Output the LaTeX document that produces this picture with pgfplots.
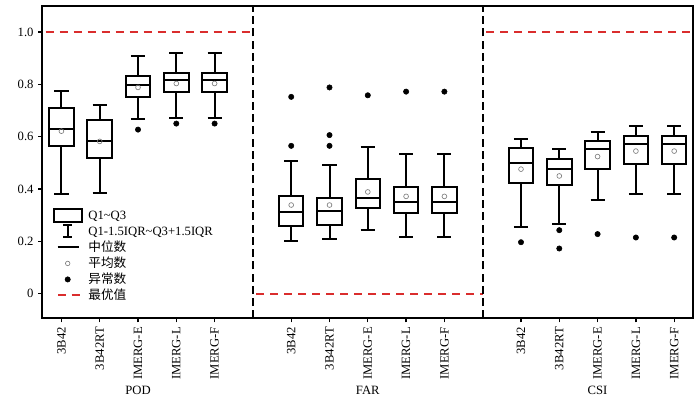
\documentclass[border=0pt]{standalone}
\usepackage{pgfplots}
\pgfplotsset{compat=1.18}
\usepgfplotslibrary{statistics}
\usepackage{fontspec}
\setmainfont{Liberation Serif}
\newfontfamily\cjk{Noto Sans CJK SC}
\definecolor{optred}{RGB}{218,45,45}
\begin{document}
\begin{tikzpicture}[font=\fontsize{9.5}{11}\selectfont]
\begin{axis}[
  name=ax,
  scale only axis,
  width=488.25pt, height=234.5pt,
  xmin=0.5, xmax=17.5, ymin=-0.094, ymax=1.1,
  clip=false,
  axis line style={line width=1.5pt},
  tick align=outside,
  xtick pos=bottom, ytick pos=left,
  major tick length=3pt,
  tick style={line width=1pt, black},
  xtick={1,2,3,4,5,7,8,9,10,11,13,14,15,16,17},
  xticklabels={3B42,3B42RT,IMERG-E,IMERG-L,IMERG-F,3B42,3B42RT,IMERG-E,IMERG-L,IMERG-F,3B42,3B42RT,IMERG-E,IMERG-L,IMERG-F},
  x tick label style={rotate=90, anchor=east},
  ytick={0,0.2,0.4,0.6,0.8,1.0},
  yticklabels={0,0.2,0.4,0.6,0.8,1.0},
  boxplot/draw direction=y,
  boxplot/every box/.style={draw=black, line width=1.5pt},
  boxplot/every whisker/.style={draw=black, line width=1.5pt},
  boxplot/every median/.style={draw=black, line width=1.5pt},
  legend style={at={(0.016,0.355)}, anchor=north west, draw=none, fill=none,
    inner sep=0pt, outer sep=0pt, row sep=0pt,
    nodes={inner sep=1pt, text height=8pt, text depth=2pt}},
  legend cell align=left,
]
% legend
\addlegendimage{legend image code/.code={\path[draw=none,fill=none] (0pt,-5.5pt) rectangle (25pt,5.5pt); \draw[black, line width=1.5pt] (0pt,-5pt) rectangle (21pt,5pt);}}
\addlegendentry{Q1\textasciitilde Q3}
\addlegendimage{legend image code/.code={\path[draw=none,fill=none] (0pt,-5.5pt) rectangle (25pt,5.5pt); \draw[black, line width=1.5pt] (7pt,-4.5pt) -- (14pt,-4.5pt) (10.5pt,-4.5pt) -- (10.5pt,4.5pt) (7pt,4.5pt) -- (14pt,4.5pt);}}
\addlegendentry{Q1-1.5IQR\textasciitilde Q3+1.5IQR}
\addlegendimage{legend image code/.code={\path[draw=none,fill=none] (0pt,-5.5pt) rectangle (25pt,5.5pt); \draw[black, line width=1.5pt] (3pt,0pt) -- (19pt,0pt);}}
\addlegendentry{\cjk 中位数}
\addlegendimage{legend image code/.code={\path[draw=none,fill=none] (0pt,-5.5pt) rectangle (25pt,5.5pt); \draw[gray, line width=0.5pt] (10.5pt,0pt) circle (1.7pt);}}
\addlegendentry{\cjk 平均数}
\addlegendimage{legend image code/.code={\path[draw=none,fill=none] (0pt,-5.5pt) rectangle (25pt,5.5pt); \fill[black] (10.5pt,0pt) circle (2pt);}}
\addlegendentry{\cjk 异常数}
\addlegendimage{legend image code/.code={\path[draw=none,fill=none] (0pt,-5.5pt) rectangle (25pt,5.5pt); \draw[optred, line width=1.5pt, dash pattern=on 6pt off 4pt] (3.5pt,0pt) -- (19.5pt,0pt);}}
\addlegendentry{\cjk 最优值}

% optimal value lines
\addplot[forget plot, optred, line width=1.5pt, dash pattern=on 6pt off 4.5pt, dash phase=-2.5pt] coordinates {(0.5,1) (6,1)};
\addplot[forget plot, optred, line width=1.5pt, dash pattern=on 6pt off 4.5pt, dash phase=-2.5pt] coordinates {(6,0) (12,0)};
\addplot[forget plot, optred, line width=1.5pt, dash pattern=on 6pt off 4.5pt, dash phase=-2.5pt] coordinates {(12,1) (17.5,1)};
% dividers
\addplot[forget plot, black, line width=1.4pt, dash pattern=on 6pt off 3.2pt] coordinates {(6,-0.094) (6,1.1)};
\addplot[forget plot, black, line width=1.4pt, dash pattern=on 6pt off 3.2pt] coordinates {(12,-0.094) (12,1.1)};

\pgfplotsset{every axis plot/.append style={forget plot}}
\tikzset{bx/.style={black, line width=1.5pt}}
% POD
\addplot[bx, boxplot prepared={draw position=1, lower whisker=0.381, lower quartile=0.565, median=0.631, upper quartile=0.708, upper whisker=0.775, box extend=0.64, whisker extend=0.37}] coordinates {};
\addplot[bx, boxplot prepared={draw position=2, lower whisker=0.386, lower quartile=0.519, median=0.582, upper quartile=0.662, upper whisker=0.720, box extend=0.64, whisker extend=0.37}] coordinates {};
\addplot[bx, boxplot prepared={draw position=3, lower whisker=0.669, lower quartile=0.752, median=0.799, upper quartile=0.831, upper whisker=0.908, box extend=0.64, whisker extend=0.37}] coordinates {};
\addplot[bx, boxplot prepared={draw position=4, lower whisker=0.672, lower quartile=0.772, median=0.816, upper quartile=0.844, upper whisker=0.921, box extend=0.64, whisker extend=0.37}] coordinates {};
\addplot[bx, boxplot prepared={draw position=5, lower whisker=0.672, lower quartile=0.772, median=0.816, upper quartile=0.844, upper whisker=0.921, box extend=0.64, whisker extend=0.37}] coordinates {};
% FAR
\addplot[bx, boxplot prepared={draw position=7, lower whisker=0.201, lower quartile=0.258, median=0.312, upper quartile=0.372, upper whisker=0.508, box extend=0.64, whisker extend=0.37}] coordinates {};
\addplot[bx, boxplot prepared={draw position=8, lower whisker=0.209, lower quartile=0.261, median=0.315, upper quartile=0.366, upper whisker=0.492, box extend=0.64, whisker extend=0.37}] coordinates {};
\addplot[bx, boxplot prepared={draw position=9, lower whisker=0.243, lower quartile=0.327, median=0.365, upper quartile=0.438, upper whisker=0.561, box extend=0.64, whisker extend=0.37}] coordinates {};
\addplot[bx, boxplot prepared={draw position=10, lower whisker=0.216, lower quartile=0.309, median=0.349, upper quartile=0.408, upper whisker=0.534, box extend=0.64, whisker extend=0.37}] coordinates {};
\addplot[bx, boxplot prepared={draw position=11, lower whisker=0.216, lower quartile=0.309, median=0.349, upper quartile=0.408, upper whisker=0.534, box extend=0.64, whisker extend=0.37}] coordinates {};
% CSI
\addplot[bx, boxplot prepared={draw position=13, lower whisker=0.255, lower quartile=0.424, median=0.500, upper quartile=0.556, upper whisker=0.592, box extend=0.64, whisker extend=0.37}] coordinates {};
\addplot[bx, boxplot prepared={draw position=14, lower whisker=0.267, lower quartile=0.415, median=0.477, upper quartile=0.515, upper whisker=0.552, box extend=0.64, whisker extend=0.37}] coordinates {};
\addplot[bx, boxplot prepared={draw position=15, lower whisker=0.360, lower quartile=0.477, median=0.553, upper quartile=0.582, upper whisker=0.616, box extend=0.64, whisker extend=0.37}] coordinates {};
\addplot[bx, boxplot prepared={draw position=16, lower whisker=0.382, lower quartile=0.495, median=0.571, upper quartile=0.601, upper whisker=0.640, box extend=0.64, whisker extend=0.37}] coordinates {};
\addplot[bx, boxplot prepared={draw position=17, lower whisker=0.382, lower quartile=0.495, median=0.571, upper quartile=0.601, upper whisker=0.640, box extend=0.64, whisker extend=0.37}] coordinates {};

% means
\addplot[only marks, mark=o, mark size=1.8pt, gray, mark options={line width=0.5pt}] coordinates {
(1,0.621) (2,0.582) (3,0.788) (4,0.803) (5,0.803)
(7,0.339) (8,0.339) (9,0.389) (10,0.372) (11,0.372)
(13,0.476) (14,0.450) (15,0.524) (16,0.545) (17,0.545)};
% outliers
\addplot[only marks, mark=*, mark size=2pt, black] coordinates {
(3,0.627) (4,0.650) (5,0.650)
(7,0.752) (7,0.565) (8,0.788) (8,0.606) (8,0.565) (9,0.758) (10,0.772) (11,0.772)
(13,0.197) (14,0.243) (14,0.173) (15,0.228) (16,0.215) (17,0.215)};

\node at (axis cs:3,-0.094) [yshift=-53.8pt] {POD};
\node at (axis cs:9,-0.094) [yshift=-53.8pt] {FAR};
\node at (axis cs:15,-0.094) [yshift=-53.8pt] {CSI};
\end{axis}
\pgfresetboundingbox
\path[use as bounding box] ([xshift=-31.7pt, yshift=-60.5pt]ax.south west) rectangle ([xshift=5pt, yshift=4.3pt]ax.north east);
\end{tikzpicture}
\end{document}
